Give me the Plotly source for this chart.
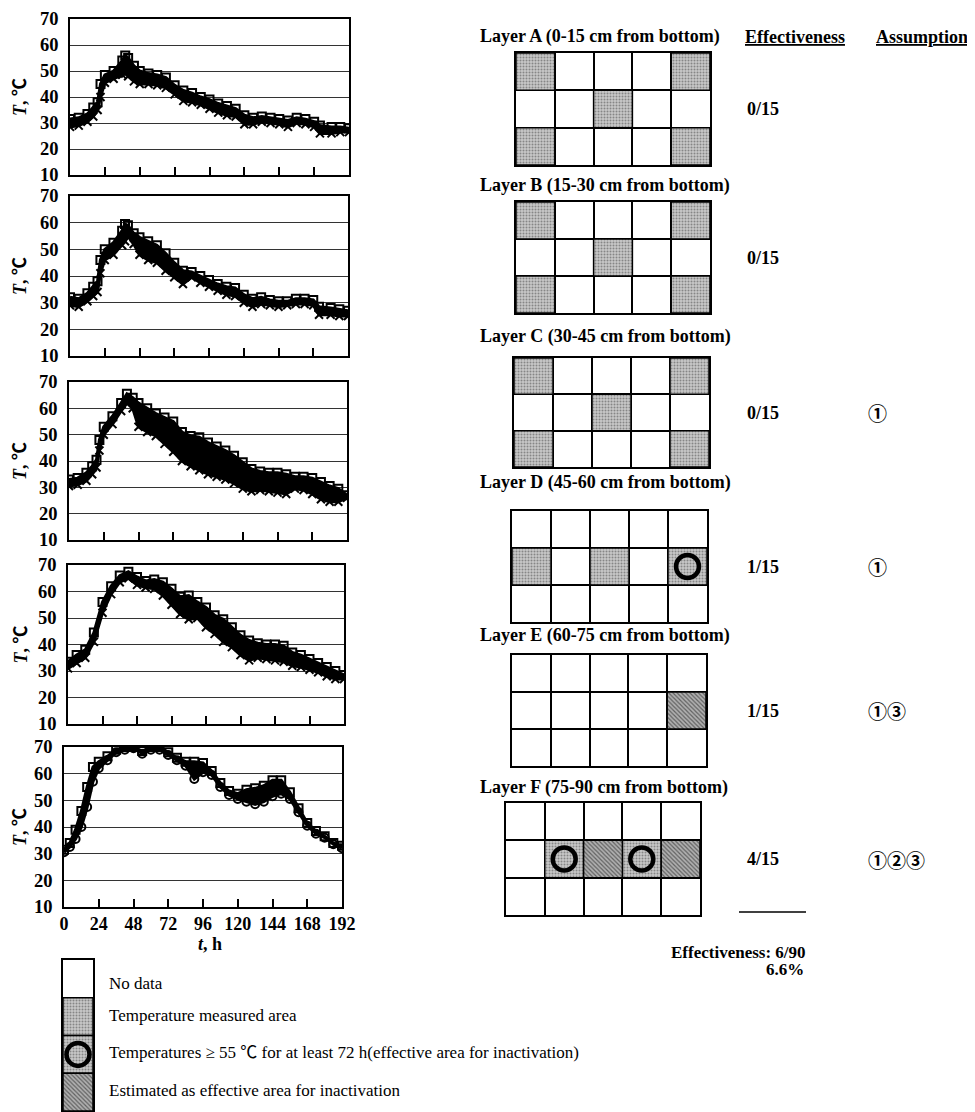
import plotly.graph_objects as go

# page offset of the plot div (default body margin) is compensated below
OFF = 8
W, H = 975 - OFF, 1112 - OFF

# ---------------- data: temperature curves (t in h, T in degC) ----------------
t_p1 = [0, 6, 12, 16, 19, 21, 24, 30, 36, 38, 40, 44, 48, 54, 60, 66, 72, 78, 84, 90, 96, 102,
        108, 114, 120, 126, 132, 138, 144, 150, 156, 162, 168, 172, 180, 186, 192]
p1_upper = [31.5, 32, 33.5, 36, 38, 45, 48.5, 50, 54, 56, 55, 52, 50, 49, 48.5, 47.5, 44.5, 42.5, 41.5,
            40, 39, 37.5, 36.5, 35.5, 33, 32, 32.5, 32, 31.5, 31, 32, 31.5, 30.5, 29, 28.5, 28.5, 28]
p1_lower = [28.5, 29, 30.5, 32.5, 35, 40, 45.5, 47, 48.5, 49, 48, 46, 45, 45, 44.5, 43.5, 41, 38.5, 38,
            37, 35.5, 34, 33, 32.5, 29.5, 29.5, 30.5, 30, 29.5, 28.5, 30, 29.5, 28.5, 26, 26, 26.5, 26.5]

t_p2 = [0, 6, 12, 16, 19, 21, 24, 30, 36, 38, 40, 44, 48, 54, 60, 66, 72, 78, 84, 90, 96, 102,
        108, 114, 120, 126, 132, 138, 144, 150, 156, 162, 168, 172, 180, 186, 192]
p2_upper = [32, 31.5, 33.5, 36, 38, 46, 50, 52.5, 57, 59.5, 59, 56, 54.5, 53, 51.5, 48.5, 45, 42, 41.5,
            40, 38.5, 37, 36, 35.5, 33, 31.5, 32, 31, 30.5, 30.5, 31.5, 31.5, 31, 28.5, 28, 27.5, 27]
p2_lower = [29, 28.5, 30.5, 32.5, 34, 41, 46, 48, 51.5, 53, 55, 52, 48, 46, 45, 42, 39.5, 37, 39.5,
            37.5, 36, 34.5, 33, 32.5, 30, 28.5, 29.5, 29, 28.5, 29, 29.5, 29.5, 29, 25.5, 25.5, 25, 25]

t_p3 = [0, 6, 12, 16, 19, 21, 24, 30, 36, 40, 44, 48, 54, 60, 66, 72, 78, 84, 90, 96, 102, 108,
        114, 120, 126, 132, 138, 144, 150, 156, 162, 168, 174, 180, 186, 192]
p3_upper = [33, 33.5, 35.5, 38, 40.5, 48, 53, 57, 62, 65.5, 64, 62, 60, 58, 56.5, 55, 51, 49.5, 49,
            47, 45.5, 44, 42, 39.5, 37, 36, 35.5, 35.5, 35, 34, 34, 33.5, 32, 30.5, 29.5, 27]
p3_lower = [30.5, 31, 32.5, 35, 37.5, 44, 50, 54, 59, 62, 60, 53, 51, 49.5, 46.5, 43.5, 40, 38, 36.5,
            35, 34, 33, 31.5, 29.5, 28.5, 29, 28.5, 28, 27.5, 29.5, 29, 27.5, 25.5, 24.5, 24.5, 26]

t_p4 = [0, 6, 12, 18, 24, 30, 36, 42, 48, 54, 60, 66, 72, 78, 84, 90, 96, 102, 108, 114, 120,
        126, 132, 138, 144, 150, 156, 162, 168, 174, 180, 186, 192]
p4_upper = [33.5, 36, 38, 44.5, 56, 62, 66, 67.5, 65.5, 64, 64.5, 63.5, 61, 58, 58.5, 56, 54, 51,
            49.5, 46.5, 43.5, 41.5, 40.5, 40, 40, 39.5, 37, 36, 34.5, 33, 31.5, 30, 28.5]
p4_lower = [31, 33, 35, 41, 52, 59, 63.5, 65, 62.5, 61.5, 61, 58.5, 55, 51.5, 49.5, 50, 46.5, 44,
            41, 39, 36, 34, 35, 34.5, 34, 33.5, 32, 31.5, 30.5, 29.5, 28, 27, 27]

t_p5 = [0, 4, 8, 12, 16, 20, 24, 30, 36, 42, 48, 54, 60, 66, 72, 78, 84, 90, 96, 102, 108, 114,
        120, 126, 132, 138, 144, 150, 156, 162, 168, 174, 180, 186, 192]
p5_upper = [31.5, 34, 39, 46, 55, 62.5, 64.5, 66.5, 69, 70, 70, 68.5, 70, 70, 68, 66, 64.5, 64.5,
            64, 61, 56.5, 53.5, 52.5, 54, 54.5, 55.5, 57.5, 57.5, 53, 47, 41.5, 38.5, 36.5, 34, 33]
p5_lower = [30.5, 32.5, 35.5, 40, 47.5, 57, 62, 65, 68, 69, 69.5, 67.5, 69, 69, 67, 65, 63, 58,
            60.5, 59.5, 55, 52, 50.5, 49.5, 48.5, 49.5, 51.5, 52.5, 50.5, 45.5, 40.5, 37.5, 36, 33.5, 32]

x_ticks = [0, 24, 48, 72, 96, 120, 144, 168, 192]
y_ticks = [10, 20, 30, 40, 50, 60, 70]

# ---------------- data: layer grids ----------------
# 0 = no data, 1 = temperature measured, 2 = measured & >=55 C for 72 h, 3 = estimated effective
layer_titles = ["Layer A (0-15 cm from bottom)", "Layer B (15-30 cm from bottom)",
                "Layer C (30-45 cm from bottom)", "Layer D (45-60 cm from bottom)",
                "Layer E (60-75 cm from bottom)", "Layer F (75-90 cm from bottom)"]
cells_A = [[1, 0, 0, 0, 1], [0, 0, 1, 0, 0], [1, 0, 0, 0, 1]]
cells_B = [[1, 0, 0, 0, 1], [0, 0, 1, 0, 0], [1, 0, 0, 0, 1]]
cells_C = [[1, 0, 0, 0, 1], [0, 0, 1, 0, 0], [1, 0, 0, 0, 1]]
cells_D = [[0, 0, 0, 0, 0], [1, 0, 1, 0, 2], [0, 0, 0, 0, 0]]
cells_E = [[0, 0, 0, 0, 0], [0, 0, 0, 0, 3], [0, 0, 0, 0, 0]]
cells_F = [[0, 0, 0, 0, 0], [0, 2, 3, 2, 3], [0, 0, 0, 0, 0]]
effectiveness = ["0/15", "0/15", "0/15", "1/15", "1/15", "4/15"]
assumption = ["", "", "①", "①", "①③", "①②③"]
total_effectiveness = "Effectiveness: 6/90"
total_percent = "6.6%"

legend_codes = [0, 1, 2, 3]
legend_labels = ["No data", "Temperature measured area",
                 "Temperatures ≥ 55 ℃ for at least 72 h(effective area for inactivation)",
                 "Estimated as effective area for inactivation"]

# ---------------- helpers ----------------
SERIF = "Liberation Serif, Times New Roman, Noto Sans CJK JP, serif"
CJK = "Noto Sans CJK JP, Liberation Serif, serif"


def fx(px):
    return (px - OFF) / W


def fy(py):
    return 1 - (py - OFF) / H


fig = go.Figure()
layout = dict(width=W, height=H,
              margin=dict(l=0, r=0, t=0, b=0, pad=0, autoexpand=False),
              paper_bgcolor="white", plot_bgcolor="white", showlegend=False,
              barmode="overlay", font=dict(family=SERIF, color="black"))
annotations = []
shapes = []


def note(x, y, text, size=18, bold=True, xanchor="center", family=SERIF, **kw):
    d = dict(x=fx(x), y=fy(y), xref="paper", yref="paper", text=text,
             showarrow=False, xanchor=xanchor, yanchor="middle",
             font=dict(size=size, family=family, color="black",
                       weight="bold" if bold else "normal"))
    d.update(kw)
    annotations.append(d)


# ---------------- temperature panels ----------------
panels = [
    (t_p1, p1_upper, p1_lower, (70, 349, 19, 175)),
    (t_p2, p2_upper, p2_lower, (70, 348, 196, 356)),
    (t_p3, p3_upper, p3_lower, (69, 347, 382, 540)),
    (t_p4, p4_upper, p4_lower, (68, 344, 565, 724)),
    (t_p5, p5_upper, p5_lower, (64, 342, 747, 907)),
]
for i, (tt, up, lo, (x0, x1, y0, y1)) in enumerate(panels, start=1):
    xa, ya = f"x{i}", f"y{i}"
    sym_b = "circle-open" if i == 5 else "x-thin-open"
    fig.add_trace(go.Scatter(
        x=tt, y=lo, xaxis=xa, yaxis=ya, mode="lines+markers",
        line=dict(color="black", width=3),
        marker=dict(symbol=sym_b, size=8, color="black", line=dict(color="black", width=2)),
        hoverinfo="skip"))
    fig.add_trace(go.Scatter(
        x=tt, y=up, xaxis=xa, yaxis=ya, mode="lines+markers",
        fill="tonexty", fillcolor="black",
        line=dict(color="black", width=3),
        marker=dict(symbol="square-open", size=8, color="black", line=dict(color="black", width=2)),
        hoverinfo="skip"))
    last = (i == 5)
    layout[f"xaxis{i}"] = dict(
        domain=[fx(x0), fx(x1)], anchor=ya, range=[0, 192], automargin=False,
        tickvals=x_ticks, ticktext=[str(v) for v in x_ticks],
        ticks="inside", ticklen=8, tickwidth=1.5, tickcolor="black",
        showticklabels=last, tickfont=dict(size=18, family=SERIF, weight="bold"),
        ticklabeloverflow="allow",
        showgrid=False, zeroline=False, showline=True, mirror=True,
        linecolor="black", linewidth=1.5, fixedrange=True)
    layout[f"yaxis{i}"] = dict(
        domain=[fy(y1), fy(y0)], anchor=xa, range=[10, 70], automargin=False,
        tickvals=y_ticks, ticks="", ticklabelstandoff=6, ticklabeloverflow="allow",
        tickfont=dict(size=18.5, family=SERIF, weight="bold"),
        showgrid=True, gridcolor="#333", gridwidth=1,
        zeroline=False, showline=True, mirror=True,
        linecolor="black", linewidth=1.5, fixedrange=True)
    note(20, (y0 + y1) / 2, "<i>T</i>, ℃", size=18, textangle=-90)

note(210, 944, "<i>t</i>, h", size=18)

# ---------------- layer grids ----------------
PAT = {
    1: dict(shape=".", fgcolor="#444", bgcolor="#c8c8c8", size=3, solidity=0.35),
    2: dict(shape=".", fgcolor="#444", bgcolor="#c8c8c8", size=3, solidity=0.35),
    3: dict(shape="\\", fgcolor="#111", bgcolor="#b0b0b0", size=3, solidity=0.4),
}


def add_cells(cells, axn):
    xa, ya = f"x{axn}", f"y{axn}"
    for code in (1, 2, 3):
        xs, bs = [], []
        for r, row in enumerate(cells):
            for c, v in enumerate(row):
                if v == code:
                    xs.append(c + 0.5)
                    bs.append(r)
        if xs:
            fig.add_trace(go.Bar(
                x=xs, y=[1] * len(xs), base=bs, width=1, xaxis=xa, yaxis=ya,
                marker=dict(color="#c8c8c8", pattern=PAT[code],
                            line=dict(color="black", width=1.5)),
                hoverinfo="skip"))
    cx, cy = [], []
    for r, row in enumerate(cells):
        for c, v in enumerate(row):
            if v == 2:
                cx.append(c + 0.5)
                cy.append(r + 0.5)
    if cx:
        fig.add_trace(go.Scatter(
            x=cx, y=cy, xaxis=xa, yaxis=ya, mode="markers",
            marker=dict(symbol="circle-open", size=23, color="black",
                        line=dict(color="black", width=4.5)),
            hoverinfo="skip"))


grids = [cells_A, cells_B, cells_C, cells_D, cells_E, cells_F]
grid_px = [(516, 710, 53, 165), (516, 710, 202, 313), (514, 709, 358, 467),
           (512, 707, 511, 622), (512, 706, 655, 766), (506, 700, 803, 915)]
title_y = [37, 186, 337, 483, 635, 787]

for k, (cells, (x0, x1, y0, y1)) in enumerate(zip(grids, grid_px)):
    axn = 6 + k
    add_cells(cells, axn)
    layout[f"xaxis{axn}"] = dict(
        domain=[fx(x0), fx(x1)], anchor=f"y{axn}", range=[0, 5], automargin=False,
        tickvals=[0, 1, 2, 3, 4, 5], showticklabels=False, ticks="",
        showgrid=True, gridcolor="black", gridwidth=1.5, zeroline=False,
        showline=True, mirror=True, linecolor="black", linewidth=2, fixedrange=True)
    layout[f"yaxis{axn}"] = dict(
        domain=[fy(y1), fy(y0)], anchor=f"x{axn}", range=[3, 0], automargin=False,
        tickvals=[0, 1, 2, 3], showticklabels=False, ticks="",
        showgrid=True, gridcolor="black", gridwidth=1.5, zeroline=False,
        showline=True, mirror=True, linecolor="black", linewidth=2, fixedrange=True)
    note(478, title_y[k], layer_titles[k], xanchor="left")
    ymid = (y0 + y1) / 2
    note(745, ymid, effectiveness[k], xanchor="left")
    if assumption[k]:
        note(866, ymid, assumption[k], size=19, bold=True, xanchor="left", family=CJK)

note(795, 37, "<u>Effectiveness</u>")
note(922, 37, "<u>Assumption</u>")

shapes.append(dict(type="line", xref="paper", yref="paper",
                   x0=fx(739), x1=fx(806), y0=fy(912), y1=fy(912),
                   line=dict(color="black", width=1.5)))
note(808, 952, total_effectiveness, size=17, xanchor="right")
note(806, 969, total_percent, size=17, xanchor="right")

# ---------------- legend (bottom) ----------------
leg_axn = 12
add_cells([[c] for c in legend_codes], leg_axn)
layout[f"xaxis{leg_axn}"] = dict(
    domain=[fx(63), fx(93)], anchor=f"y{leg_axn}", range=[0, 1], automargin=False,
    showticklabels=False, ticks="", showgrid=False, zeroline=False,
    showline=True, mirror=True, linecolor="black", linewidth=1.5, fixedrange=True)
layout[f"yaxis{leg_axn}"] = dict(
    domain=[fy(1111), fy(960)], anchor=f"x{leg_axn}", range=[4, 0], automargin=False,
    tickvals=[0, 1, 2, 3, 4], showticklabels=False, ticks="",
    showgrid=True, gridcolor="black", gridwidth=1.5, zeroline=False,
    showline=True, mirror=True, linecolor="black", linewidth=1.5, fixedrange=True)
leg_text_y = [983, 1016, 1052, 1090]
for lbl, yy in zip(legend_labels, leg_text_y):
    note(107, yy, lbl, size=17, bold=False, xanchor="left")

layout["annotations"] = annotations
layout["shapes"] = shapes
fig.update_layout(**layout)
fig.write_html("out.html")
